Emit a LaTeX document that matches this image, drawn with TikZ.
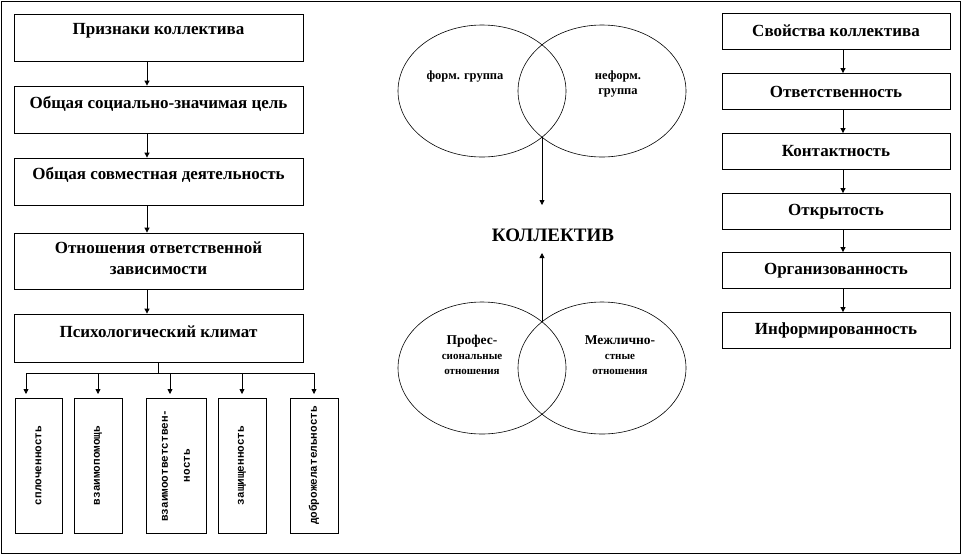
\documentclass[tikz,border=0pt]{standalone}
\usepackage{fontspec}
\setmainfont{Liberation Serif}
\newfontfamily\monofnt{Liberation Mono}
\usetikzlibrary{arrows.meta}
\tikzset{
  frame/.style={draw=black, line width=0.8pt},
  boxl/.style={draw=black, line width=0.8pt, rectangle, minimum width=289pt, inner sep=0pt},
  boxr/.style={draw=black, line width=0.8pt, rectangle, minimum width=228pt, minimum height=36pt, inner sep=0pt, font=\bfseries\fontsize{17}{19}\selectfont},
  txt/.style={font=\bfseries\fontsize{17}{21}\selectfont, inner sep=0pt, align=center},
  vbox/.style={draw=black, line width=0.8pt, rectangle, inner sep=0pt},
  vtxt/.style={font=\monofnt\bfseries\fontsize{11}{22}\selectfont, rotate=90, inner sep=0pt, align=center},
  ell/.style={draw=black, line width=0.6pt},
  ctxt/.style={font=\bfseries\fontsize{12.5}{15}\selectfont, inner sep=0pt, align=center},
  arr/.style={draw=black, line width=0.8pt, -{Triangle[width=5pt,length=5pt]}},
  ln/.style={draw=black, line width=0.8pt}
}
\begin{document}
\begin{tikzpicture}[x=1pt,y=-1pt]
\useasboundingbox (0,0) rectangle (963,555);
\draw[frame] (1.5,1.5) rectangle (960.5,553.5);

% left column
\node[boxl, minimum height=47pt] (l1) at (158.5,37.5) {};
\node[boxl, minimum height=47pt] (l2) at (158.5,109.5) {};
\node[boxl, minimum height=47pt] (l3) at (158.5,181.5) {};
\node[boxl, minimum height=56pt] (l4) at (158.5,261) {};
\node[boxl, minimum height=48pt] (l5) at (158.5,338) {};
\node[txt] (t1) at (158.5,31) {Признаки коллектива};
\node[txt] (t2) at (158.5,104) {Общая социально-значимая цель};
\node[txt] (t3) at (158.5,175) {Общая совместная деятельность};
\node[txt] (t4) at (158.5,258) {Отношения ответственной\\зависимости};
\node[txt] (t5) at (158.5,332) {Психологический климат};
\draw[arr] (l1.south -| 147,0) -- (l2.north -| 147,0);
\draw[arr] (l2.south -| 147,0) -- (l3.north -| 147,0);
\draw[arr] (l3.south -| 147,0) -- (l4.north -| 147,0);
\draw[arr] (l4.south -| 147,0) -- (l5.north -| 147,0);

% branch
\coordinate (br) at (158.5,373);
\draw[ln] (l5.south) -- (br);
\draw[ln] (26,373) -- (314,373);
\node[vbox, minimum width=47pt, minimum height=135pt] (v1) at (38.5,465.5) {};
\node[vbox, minimum width=48pt, minimum height=135pt] (v2) at (98,465.5) {};
\node[vbox, minimum width=60pt, minimum height=135pt] (v3) at (176,465.5) {};
\node[vbox, minimum width=48pt, minimum height=135pt] (v4) at (242,465.5) {};
\node[vbox, minimum width=48pt, minimum height=135pt] (v5) at (314,465.5) {};
\foreach \i/\x in {1/26,2/98,3/170,4/242,5/314}{
  \coordinate (b\i) at (\x,373);
  \draw[arr] (b\i) -- (\x,394);
}
\node[vtxt] (w1) at (v1.center) {сплоченность};
\node[vtxt] (w2) at (v2.center) {взаимопомощь};
\node[vtxt] (w3) at (v3.center) {взаимоответствен-\\ность};
\node[vtxt] (w4) at (v4.center) {защищенность};
\node[vtxt] (w5) at (v5.center) {доброжелательность};

% centre
\draw[ell] (482,91) ellipse [x radius=84, y radius=66];
\draw[ell] (602,91) ellipse [x radius=84, y radius=66];
\draw[ell] (482,368) ellipse [x radius=84, y radius=66];
\draw[ell] (602,368) ellipse [x radius=84, y radius=66];
\node[ctxt] (f1) at (465,77) {форм. группа};
\node[ctxt] (f2) at (618,84.5) {неформ.\\группа};
\node[ctxt] (p1) at (472,355) {\fontsize{13.5}{15}\selectfont Профес-\\\fontsize{11}{15}\selectfont сиональные\\\fontsize{11}{15}\selectfont отношения};
\node[ctxt] (p2) at (620,355) {\fontsize{13.5}{15}\selectfont Межлично-\\\fontsize{11}{15}\selectfont стные\\\fontsize{11}{15}\selectfont отношения};
\node[font=\bfseries\fontsize{19}{21}\selectfont, inner sep=2pt] (k) at (553,235) {КОЛЛЕКТИВ};
\coordinate (top) at (542,137);
\coordinate (bot) at (542,322);
\draw[arr] (top) -- (542,205);
\draw[arr] (bot) -- (542,253);

% right column
\node[boxr] (r1) at (836,31) {Свойства коллектива};
\node[boxr] (r2) at (836,91.5) {Ответственность};
\node[boxr] (r3) at (836,151.5) {Контактность};
\node[boxr] (r4) at (836,211.5) {Открытость};
\node[boxr] (r5) at (836,270.5) {Организованность};
\node[boxr] (r6) at (836,330.5) {Информированность};
\foreach \a/\b in {r1/r2,r2/r3,r3/r4,r4/r5,r5/r6}{
  \draw[arr] (\a.south -| 843,0) -- (\b.north -| 843,0);
}
\end{tikzpicture}
\end{document}
